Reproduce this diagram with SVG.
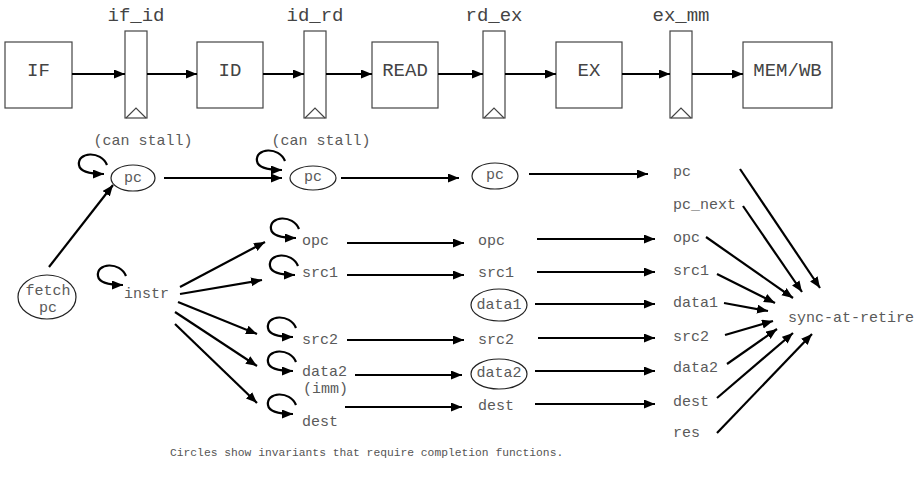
<svg xmlns="http://www.w3.org/2000/svg" width="922" height="489" viewBox="0 0 922 489">
<style>
text{font-family:"Liberation Mono","DejaVu Sans Mono",monospace;}
.big{font-size:19px;fill:#444;}
.lbl{font-size:15px;fill:#5a5a5a;}
.cap{font-size:11.3px;fill:#555;}
.box{fill:#fff;stroke:#444;stroke-width:1.2;}
.ell{fill:none;stroke:#222;stroke-width:1.2;}
.arr{fill:none;stroke:#000;stroke-width:2.2;marker-end:url(#ah);}
.mid{text-anchor:middle;}
</style>
<defs>
<marker id="ah" markerUnits="userSpaceOnUse" markerWidth="12" markerHeight="10" refX="11" refY="4.5" orient="auto">
<path d="M0,0 L11,4.5 L0,9 z" fill="#000"/>
</marker>
<path id="loop" d="M3,-9 C-3,-24 -27,-22 -25,-9 C-24,-2 -13,0 0,0"/>
</defs>

<g id="IF"><rect class="box" x="5" y="42" width="67" height="66"/><text class="big mid" x="38.5" y="76">IF</text></g>
<g id="if_id"><rect class="box" x="125" y="31" width="22" height="87"/><polyline points="126,118 136,108 146,118" fill="none" stroke="#444" stroke-width="1.2"/><text class="big mid" x="136" y="21">if_id</text></g>
<g id="ID"><rect class="box" x="197" y="42" width="66" height="66"/><text class="big mid" x="230" y="76">ID</text></g>
<g id="id_rd"><rect class="box" x="304" y="31" width="22" height="87"/><polyline points="305,118 315,108 325,118" fill="none" stroke="#444" stroke-width="1.2"/><text class="big mid" x="315" y="21">id_rd</text></g>
<g id="READ"><rect class="box" x="372" y="42" width="66" height="66"/><text class="big mid" x="405" y="76">READ</text></g>
<g id="rd_ex"><rect class="box" x="483" y="31" width="22" height="87"/><polyline points="484,118 494,108 504,118" fill="none" stroke="#444" stroke-width="1.2"/><text class="big mid" x="494" y="21">rd_ex</text></g>
<g id="EX"><rect class="box" x="556" y="42" width="66" height="66"/><text class="big mid" x="589" y="76">EX</text></g>
<g id="ex_mm"><rect class="box" x="670" y="31" width="22" height="87"/><polyline points="671,118 681,108 691,118" fill="none" stroke="#444" stroke-width="1.2"/><text class="big mid" x="681" y="21">ex_mm</text></g>
<g id="MEMWB"><rect class="box" x="743" y="42" width="89" height="66"/><text class="big mid" x="787.5" y="76">MEM/WB</text></g>

<g id="stall1"><text class="lbl mid" x="143" y="145">(can stall)</text></g>
<g id="stall2"><text class="lbl mid" x="321" y="145">(can stall)</text></g>
<g id="pc1"><ellipse class="ell" cx="133" cy="178" rx="22" ry="13"/><text class="lbl mid" x="133" y="182">pc</text></g>
<g id="pc2"><ellipse class="ell" cx="313" cy="178" rx="23" ry="12"/><text class="lbl mid" x="313" y="181">pc</text></g>
<g id="pc3"><ellipse class="ell" cx="495" cy="176" rx="23" ry="13"/><text class="lbl mid" x="495" y="179">pc</text></g>
<g id="fetchpc"><ellipse class="ell" cx="47" cy="297" rx="29" ry="22"/><text class="lbl mid" x="48" y="295">fetch</text><text class="lbl mid" x="48" y="312">pc</text></g>
<g id="instr"><text class="lbl" x="124" y="298">instr</text></g>

<g id="c2_opc"><text class="lbl" x="302" y="245">opc</text></g>
<g id="c2_src1"><text class="lbl" x="302" y="277">src1</text></g>
<g id="c2_src2"><text class="lbl" x="302" y="344">src2</text></g>
<g id="c2_data2"><text class="lbl" x="302" y="376">data2</text><text class="lbl" x="303" y="393">(imm)</text></g>
<g id="c2_dest"><text class="lbl" x="302" y="426">dest</text></g>

<g id="c3_opc"><text class="lbl" x="478" y="245">opc</text></g>
<g id="c3_src1"><text class="lbl" x="478" y="277">src1</text></g>
<g id="c3_data1"><ellipse class="ell" cx="499" cy="305" rx="28" ry="16"/><text class="lbl mid" x="499" y="309">data1</text></g>
<g id="c3_src2"><text class="lbl" x="478" y="344">src2</text></g>
<g id="c3_data2"><ellipse class="ell" cx="499" cy="374" rx="28" ry="15"/><text class="lbl mid" x="499" y="377">data2</text></g>
<g id="c3_dest"><text class="lbl" x="478" y="410">dest</text></g>

<g id="c4_pc"><text class="lbl" x="673" y="176">pc</text></g>
<g id="c4_pc_next"><text class="lbl" x="673" y="209">pc_next</text></g>
<g id="c4_opc"><text class="lbl" x="673" y="242">opc</text></g>
<g id="c4_src1"><text class="lbl" x="673" y="275">src1</text></g>
<g id="c4_data1"><text class="lbl" x="673" y="307">data1</text></g>
<g id="c4_src2"><text class="lbl" x="673" y="341">src2</text></g>
<g id="c4_data2"><text class="lbl" x="673" y="372">data2</text></g>
<g id="c4_dest"><text class="lbl" x="673" y="406">dest</text></g>
<g id="c4_res"><text class="lbl" x="673" y="437">res</text></g>
<g id="sync"><text class="lbl" x="788" y="322">sync-at-retire</text></g>

<g id="caption"><text class="cap" x="170" y="456">Circles show invariants that require completion functions.</text></g>

<g id="connectors">
<line class="arr" x1="72" y1="74" x2="125" y2="74"/>
<line class="arr" x1="147" y1="74" x2="197" y2="74"/>
<line class="arr" x1="263" y1="74" x2="304" y2="74"/>
<line class="arr" x1="326" y1="74" x2="372" y2="74"/>
<line class="arr" x1="438" y1="74" x2="483" y2="74"/>
<line class="arr" x1="505" y1="74" x2="556" y2="74"/>
<line class="arr" x1="622" y1="74" x2="670" y2="74"/>
<line class="arr" x1="692" y1="74" x2="743" y2="74"/>

<use href="#loop" class="arr" x="104" y="174"/>
<use href="#loop" class="arr" x="282" y="170"/>
<use href="#loop" class="arr" x="123" y="285"/>
<use href="#loop" class="arr" x="296" y="238"/>
<use href="#loop" class="arr" x="295" y="275"/>
<use href="#loop" class="arr" x="293" y="337"/>
<use href="#loop" class="arr" x="293" y="371"/>
<use href="#loop" class="arr" x="293" y="414"/>

<line class="arr" x1="49" y1="267" x2="113" y2="185"/>
<line class="arr" x1="164" y1="178" x2="282" y2="178"/>
<line class="arr" x1="341" y1="178" x2="459" y2="178"/>
<line class="arr" x1="529" y1="174" x2="648" y2="174"/>

<line class="arr" x1="180" y1="287" x2="265" y2="242"/>
<line class="arr" x1="180" y1="294" x2="262" y2="280"/>
<line class="arr" x1="178" y1="302" x2="257" y2="334"/>
<line class="arr" x1="175" y1="312" x2="257" y2="366"/>
<line class="arr" x1="175" y1="324" x2="257" y2="403"/>

<line class="arr" x1="347" y1="243" x2="464" y2="243"/>
<line class="arr" x1="347" y1="275" x2="464" y2="275"/>
<line class="arr" x1="347" y1="340" x2="464" y2="340"/>
<line class="arr" x1="355" y1="375" x2="462" y2="375"/>
<line class="arr" x1="345" y1="407" x2="462" y2="407"/>

<line class="arr" x1="537" y1="239" x2="655" y2="239"/>
<line class="arr" x1="537" y1="272" x2="655" y2="272"/>
<line class="arr" x1="535" y1="304" x2="655" y2="304"/>
<line class="arr" x1="538" y1="338" x2="655" y2="338"/>
<line class="arr" x1="535" y1="371" x2="655" y2="371"/>
<line class="arr" x1="535" y1="404" x2="655" y2="404"/>

<line class="arr" x1="740" y1="169" x2="820" y2="288"/>
<line class="arr" x1="743" y1="206" x2="802" y2="292"/>
<line class="arr" x1="706" y1="237" x2="793" y2="298"/>
<line class="arr" x1="717" y1="274" x2="775" y2="303"/>
<line class="arr" x1="724" y1="303" x2="768" y2="311"/>
<line class="arr" x1="725" y1="335" x2="773" y2="321"/>
<line class="arr" x1="727" y1="364" x2="777" y2="329"/>
<line class="arr" x1="717" y1="398" x2="793" y2="333"/>
<line class="arr" x1="717" y1="433" x2="812" y2="334"/>
</g>
</svg>
